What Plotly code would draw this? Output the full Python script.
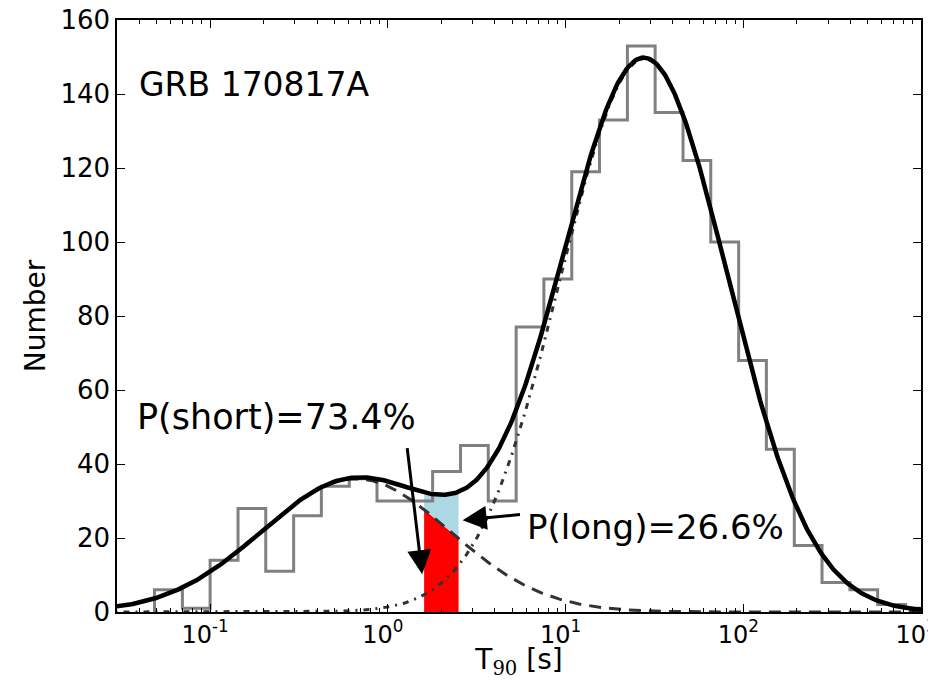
import numpy as np
import plotly.graph_objects as go

# histogram of T90 (log10 bin edges and counts)
bin_edges_log = [-1.313, -1.156, -1.000, -0.843, -0.687, -0.530, -0.374, -0.217,
                 -0.061, 0.096, 0.252, 0.409, 0.565, 0.722, 0.878, 1.035, 1.191,
                 1.348, 1.504, 1.661, 1.817, 1.974, 2.130, 2.287, 2.443, 2.600,
                 2.756, 2.913, 3.069]
counts = [6, 1, 14, 28, 11, 26, 34, 36, 30, 30, 38, 45, 30, 77, 90, 119, 133,
          153, 135, 122, 100, 68, 44, 18, 8, 6, 2, 1]

# two-lognormal fit (amplitude, mean of log10 T90, sigma)
short_fit = [36.0, -0.18, 0.53]
long_fit = [149.5, 1.443, 0.47]

# T90 interval of GRB 170817A
grb_t90 = [1.6, 2.5]

p_short = "P(short)=73.4%"
p_long = "P(long)=26.6%"
grb_name = "GRB 170817A"


def gauss(logt, p):
    return p[0] * np.exp(-(logt - p[1]) ** 2 / (2 * p[2] ** 2))


# step outline of the histogram
hx = [10 ** bin_edges_log[0]]
hy = [0]
for i, c in enumerate(counts):
    hx += [10 ** bin_edges_log[i], 10 ** bin_edges_log[i + 1]]
    hy += [c, c]
hx.append(10 ** bin_edges_log[-1])
hy.append(0)

lt = np.linspace(-1.6, 3.1, 600)
t = 10 ** lt
y_short = gauss(lt, short_fit)
y_long = gauss(lt, long_fit)
y_tot = y_short + y_long

lb = np.linspace(np.log10(grb_t90[0]), np.log10(grb_t90[1]), 60)
tb = 10 ** lb
b_short = gauss(lb, short_fit)
b_tot = b_short + gauss(lb, long_fit)

fig = go.Figure()
fig.add_trace(go.Scatter(x=tb, y=b_short, mode="lines", line=dict(width=0),
                         fill="tozeroy", fillcolor="#ff0000", showlegend=False))
fig.add_trace(go.Scatter(x=tb, y=b_tot, mode="lines", line=dict(width=0),
                         fill="tonexty", fillcolor="#add8e6", showlegend=False))
fig.add_trace(go.Scatter(x=hx, y=hy, mode="lines",
                         line=dict(color="#808080", width=3), showlegend=False))
fig.add_trace(go.Scatter(x=t, y=y_short, mode="lines",
                         line=dict(color="#333333", width=3, dash="12px,8px"),
                         showlegend=False))
fig.add_trace(go.Scatter(x=t, y=y_long, mode="lines",
                         line=dict(color="#333333", width=3, dash="6px,6px,2px,6px"),
                         showlegend=False))
fig.add_trace(go.Scatter(x=t, y=y_tot, mode="lines",
                         line=dict(color="black", width=4.5), showlegend=False))

font = dict(family="DejaVu Sans", color="black")
minor_vals = [m * 10.0 ** d for d in range(-2, 3) for m in range(2, 10)]

# page body adds an 8px offset, so the figure is 8px smaller
fig.update_layout(
    width=928, height=672,
    margin=dict(l=109, r=15, t=12, b=68),
    paper_bgcolor="white", plot_bgcolor="white",
    font=dict(family="DejaVu Sans", size=25, color="black"),
    xaxis=dict(
        type="log", range=[-1.524, 3], automargin=False,
        ticklabeloverflow="allow", ticklabelshift=-5,
        tickvals=[0.1, 1, 10, 100, 1000],
        ticktext=["10<sup>-1</sup>", "10<sup>0</sup>", "10<sup>1</sup>",
                  "10<sup>2</sup>", "10<sup>3</sup>"],
        ticks="inside", ticklen=8, tickwidth=1, tickcolor="black",
        minor=dict(tickvals=minor_vals, ticks="inside", ticklen=4,
                   tickwidth=1, tickcolor="black", showgrid=False),
        showline=True, linecolor="black", linewidth=1.5, mirror="ticks",
        showgrid=False, zeroline=False,
        tickfont=dict(size=24, **font),
        title=dict(text='T<sub><span style="font-family:DejaVu Serif">90</span></sub> [s]',
                   font=dict(size=28, **font), standoff=8),
    ),
    yaxis=dict(
        range=[0, 160], dtick=20, automargin=False,
        ticklabeloverflow="allow",
        ticks="inside", ticklen=8, tickwidth=1, tickcolor="black",
        showline=True, linecolor="black", linewidth=1.5, mirror="ticks",
        showgrid=False, zeroline=False,
        tickfont=dict(size=26, **font),
        title=dict(text="Number", font=dict(size=28, **font), standoff=7),
    ),
)

fig.add_annotation(x=-1.413, y=142.5, xref="x", yref="y", text=grb_name,
                   showarrow=False, xanchor="left", yanchor="middle",
                   font=dict(size=33, **font))
fig.add_annotation(x=-1.42, y=52.7, xref="x", yref="y", text=p_short,
                   showarrow=False, xanchor="left", yanchor="middle",
                   font=dict(size=35, **font))
fig.add_annotation(x=0.77, y=23, xref="x", yref="y", text=p_long,
                   showarrow=False, xanchor="left", yanchor="middle",
                   font=dict(size=34, **font))
# arrows
fig.add_annotation(x=0.193, y=10.2, ax=0.108, ay=44.7, xref="x", yref="y",
                   axref="x", ayref="y", text="", showarrow=True, arrowhead=2,
                   arrowwidth=3, arrowsize=1.6, arrowcolor="black", standoff=0)
fig.add_annotation(x=0.421, y=24.8, ax=0.752, ay=26.4, xref="x", yref="y",
                   axref="x", ayref="y", text="", showarrow=True, arrowhead=2,
                   arrowwidth=3, arrowsize=1.6, arrowcolor="black", standoff=0)

fig.write_html("out.html")
